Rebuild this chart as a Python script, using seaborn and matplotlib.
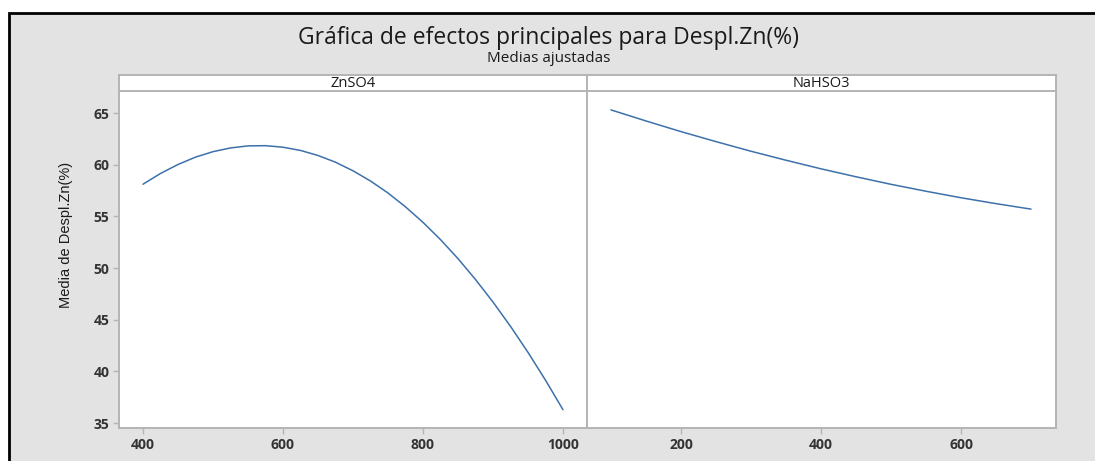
import matplotlib
matplotlib.use("Agg")
import matplotlib.pyplot as plt
from matplotlib.patches import Rectangle
import pandas as pd
import seaborn as sns

# Fitted means for each factor
znso4_levels = [400, 425, 450, 475, 500, 525, 550, 575, 600, 625, 650, 675, 700,
                725, 750, 775, 800, 825, 850, 875, 900, 925, 950, 975, 1000]
znso4_means = [58.11, 59.15, 60.02, 60.73, 61.26, 61.62, 61.82, 61.84, 61.69, 61.38,
               60.89, 60.24, 59.41, 58.42, 57.26, 55.92, 54.42, 52.75, 50.91, 48.89,
               46.71, 44.36, 41.84, 39.15, 36.29]

nahso3_levels = [100, 150, 200, 250, 300, 350, 400, 450, 500, 550, 600, 650, 700]
nahso3_means = [65.30, 64.23, 63.20, 62.23, 61.30, 60.43, 59.60, 58.83, 58.10,
                57.43, 56.80, 56.23, 55.70]

panel_titles = ["ZnSO4", "NaHSO3"]
x_ticks = [[400, 600, 800, 1000], [200, 400, 600]]
y_ticks = [35, 40, 45, 50, 55, 60, 65]

title = "Gráfica de efectos principales para Despl.Zn(%)"
subtitle = "Medias ajustadas"
y_label = "Media de Despl.Zn(%)"

df = pd.concat([
    pd.DataFrame({"factor": "ZnSO4", "nivel": znso4_levels, "media": znso4_means}),
    pd.DataFrame({"factor": "NaHSO3", "nivel": nahso3_levels, "media": nahso3_means}),
])

sns.set_theme(style="white")
plt.rcParams["font.family"] = ["Open Sans", "DejaVu Sans"]

W, H = 1095, 461
fig = plt.figure(figsize=(W / 100, H / 100), dpi=100)
fig.patch.set_facecolor("white")

# Background layer: grey panel with black frame along top and left
bg = fig.add_axes([0, 0, 1, 1], zorder=-10)
bg.set_xlim(0, W)
bg.set_ylim(H, 0)
bg.axis("off")
bg.add_patch(Rectangle((9, 13), W + 50, H + 50, facecolor="#e3e3e3",
                       edgecolor="black", linewidth=2.0))

fig.text(549 / W, 1 - 38 / H, title, ha="center", va="center",
         fontsize=16.5, color="#1a1a1a")
fig.text(549 / W, 1 - 58 / H, subtitle, ha="center", va="center",
         fontsize=11, color="#1a1a1a")

grey = "#b4b4b4"
tick_kw = dict(fontsize=10, fontweight="bold", color="#333333")
bounds = [(119, 586.5), (586.5, 1056)]
xlims = [(365.7, 1033.6), (65, 735.7)]
top_px, bot_px, strip_top = 91, 428, 75

for i, factor in enumerate(panel_titles):
    x0, x1 = bounds[i]
    ax = fig.add_axes([x0 / W, 1 - bot_px / H, (x1 - x0) / W, (bot_px - top_px) / H])
    sub = df[df["factor"] == factor]
    sns.lineplot(data=sub, x="nivel", y="media", ax=ax, color="#3d71ab",
                 linewidth=1.1, sort=False)
    ax.set_xlim(*xlims[i])
    ax.set_ylim(34.52, 67.13)
    ax.set_facecolor("white")
    ax.set_xlabel("")
    ax.set_ylabel("")
    ax.set_xticks(x_ticks[i])
    ax.set_xticklabels([str(t) for t in x_ticks[i]], **tick_kw)
    ax.tick_params(axis="x", direction="out", length=4, width=1, color=grey, pad=3,
                   bottom=True)
    if i == 0:
        ax.set_yticks(y_ticks)
        ax.set_yticklabels([str(t) for t in y_ticks], **tick_kw)
        ax.tick_params(axis="y", direction="out", length=4, width=1, color=grey,
                       pad=3, left=True)
    else:
        ax.set_yticks([])
    for s in ax.spines.values():
        s.set_color(grey)
        s.set_linewidth(1.4)

    # strip header
    sax = fig.add_axes([x0 / W, 1 - top_px / H, (x1 - x0) / W, (top_px - strip_top) / H])
    sax.set_facecolor("white")
    sax.set_xticks([])
    sax.set_yticks([])
    for s in sax.spines.values():
        s.set_color(grey)
        s.set_linewidth(1.4)
    sax.text(0.5, 0.45, factor, ha="center", va="center", fontsize=10.5,
             color="#1a1a1a", transform=sax.transAxes)

fig.text(66 / W, 1 - 235 / H, y_label, rotation=90, ha="center", va="center",
         fontsize=10.5, color="#1a1a1a",
         family=["Liberation Sans Narrow", "Liberation Sans", "DejaVu Sans"])

fig.savefig("out.png", dpi=100, facecolor=fig.get_facecolor())
